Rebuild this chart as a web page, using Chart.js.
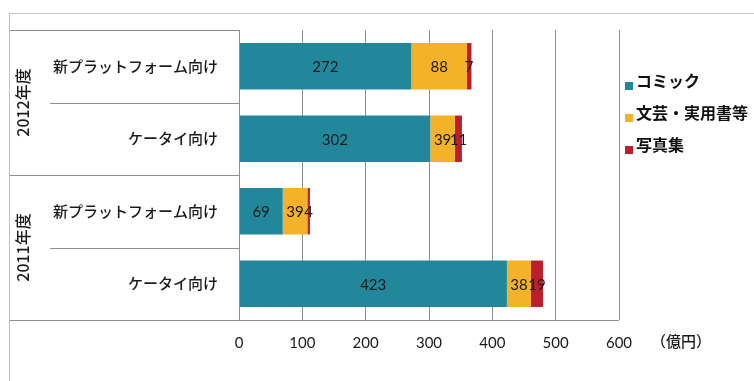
<!DOCTYPE html>
<html>
<head>
<meta charset="utf-8">
<script src="https://cdn.jsdelivr.net/npm/chart.js@4.4.1/dist/chart.umd.min.js"></script>
<style>
  html, body { margin: 0; padding: 0; background: #ffffff; }
  #wrap { width: 754px; height: 381px; }
</style>
</head>
<body>
<div id="wrap"><canvas id="c" width="754" height="381"></canvas></div>
<script>
// 電子書籍市場 プラットフォーム別・ジャンル別内訳（億円）
const categories = ['新プラットフォーム向け', 'ケータイ向け', '新プラットフォーム向け', 'ケータイ向け'];
const yearGroups = ['2012年度', '2011年度'];   // each year covers two rows
const comic      = [272, 302, 69, 423];
const literature = [88, 39, 39, 38];
const photo      = [7, 11, 4, 19];
const seriesNames = ['コミック', '文芸・実用書等', '写真集'];
const seriesColors = ['#23879B', '#F4B22B', '#BD1E2E'];
const xTicks = [0, 100, 200, 300, 400, 500, 600];
const unitLabel = '（億円）';

const JP = '"Noto Sans CJK JP", "Noto Sans", sans-serif';
const NUM = 'Lato, "Open Sans", sans-serif';
const frameColor = '#c4c4c4';
const lineColor = '#8f8f8f';

// Values printed in the middle of each stacked segment
const segmentLabels = {
  id: 'segmentLabels',
  afterDatasetsDraw(chart) {
    const ctx = chart.ctx;
    ctx.save();
    ctx.font = '15px ' + NUM;
    ctx.fillStyle = '#1b1b1b';
    ctx.textAlign = 'center';
    ctx.textBaseline = 'middle';
    chart.data.datasets.forEach((ds, i) => {
      chart.getDatasetMeta(i).data.forEach((el, j) => {
        const p = el.getProps(['x', 'y', 'base'], true);
        ctx.fillText(String(ds.data[j]), (p.x + p.base) / 2, p.y + 1);
      });
    });
    ctx.restore();
  }
};

// Frame, row separators, year group labels, unit label and legend
const decorations = {
  id: 'decorations',
  afterDraw(chart) {
    const ctx = chart.ctx;
    const ys = chart.scales.y;
    const xs = chart.scales.x;
    const area = chart.chartArea;
    const n = categories.length;
    const band = (ys.bottom - ys.top) / n;
    const leftEdge = 9.5;
    ctx.save();

    // outer frame
    ctx.strokeStyle = frameColor;
    ctx.lineWidth = 1;
    ctx.beginPath();
    ctx.moveTo(leftEdge, chart.height);
    ctx.lineTo(leftEdge, 13.5);
    ctx.lineTo(chart.width, 13.5);
    ctx.stroke();

    // category table lines
    ctx.strokeStyle = lineColor;
    ctx.beginPath();
    for (let i = 0; i <= n; i++) {
      const y = Math.round(ys.top + i * band) + 0.5;
      const full = (i % 2 === 0);
      ctx.moveTo(full ? leftEdge : 50, y);
      ctx.lineTo(i === n ? xs.getPixelForValue(600) : area.left, y);
    }
    ctx.moveTo(Math.round(area.left) + 0.5, ys.top);
    ctx.lineTo(Math.round(area.left) + 0.5, ys.bottom);
    ctx.stroke();

    // year group labels (rotated)
    ctx.fillStyle = '#1b1b1b';
    ctx.font = '500 16px ' + JP;
    ctx.textAlign = 'center';
    ctx.textBaseline = 'middle';
    yearGroups.forEach((g, k) => {
      const cy = ys.top + (k * 2 + 1) * band;
      ctx.save();
      ctx.translate(23, cy);
      ctx.rotate(-Math.PI / 2);
      ctx.fillText(g, 0, 0);
      ctx.restore();
    });

    // unit label beside the x axis
    ctx.textAlign = 'left';
    ctx.font = '500 15px ' + JP;
    ctx.fillText(unitLabel, 651, 341);

    // legend
    const legendTop = 81;
    const gap = 32;
    chart.data.datasets.forEach((ds, i) => {
      const y = legendTop + i * gap;
      ctx.fillStyle = ds.backgroundColor;
      ctx.fillRect(625, y + 1, 8, 8);
      ctx.fillStyle = '#111111';
      ctx.font = 'bold 16px ' + JP;
      ctx.textBaseline = 'middle';
      ctx.fillText(ds.label, 636, y);
    });
    ctx.restore();
  }
};

new Chart(document.getElementById('c'), {
  type: 'bar',
  data: {
    labels: categories,
    datasets: [
      { label: seriesNames[0], data: comic, backgroundColor: seriesColors[0] },
      { label: seriesNames[1], data: literature, backgroundColor: seriesColors[1] },
      { label: seriesNames[2], data: photo, backgroundColor: seriesColors[2] }
    ]
  },
  options: {
    indexAxis: 'y',
    responsive: false,
    animation: false,
    devicePixelRatio: 1,
    layout: { padding: { top: 28, right: 135, left: 0, bottom: 0 } },
    datasets: { bar: { categoryPercentage: 1, barPercentage: 0.64, borderWidth: 0 } },
    plugins: {
      legend: { display: false },
      tooltip: { enabled: false }
    },
    scales: {
      x: {
        stacked: true,
        min: 0,
        max: 600,
        afterBuildTicks(scale) { scale.ticks = xTicks.map(v => ({ value: v })); },
        afterFit(scale) { scale.height = 61; },
        grid: { color: lineColor, drawTicks: false, lineWidth: 1 },
        border: { display: false },
        ticks: { padding: 14, color: '#1b1b1b', font: { family: NUM, size: 15 } }
      },
      y: {
        stacked: true,
        afterFit(scale) { scale.width = 239; },
        grid: { display: false, drawTicks: false },
        border: { display: false },
        ticks: { padding: 21, color: '#1b1b1b', font: { family: JP, size: 15, weight: '500' } }
      }
    }
  },
  plugins: [segmentLabels, decorations]
});
</script>
</body>
</html>
